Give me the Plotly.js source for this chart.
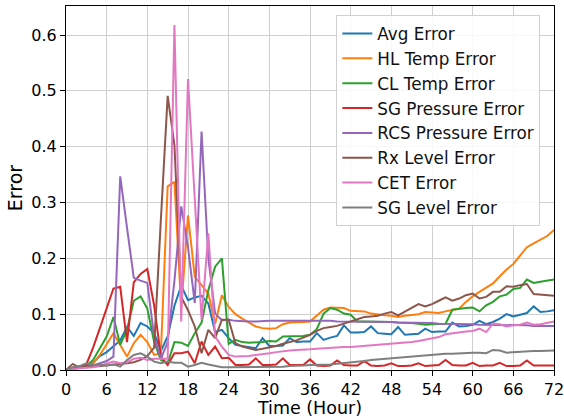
<!DOCTYPE html>
<html>
<head>
<meta charset="utf-8">
<script src="https://cdn.plot.ly/plotly-3.0.1.min.js"></script>
<style>html,body{margin:0;padding:0;background:#fff;}#chart{width:564px;height:418px;}</style>
</head>
<body>
<div id="chart"></div>
<script>
// Hours 0..72
const hours = Array.from({length: 73}, (_, i) => i);
const xTicks = [0, 6, 12, 18, 24, 30, 36, 42, 48, 54, 60, 66, 72];
const seriesNames = ["Avg Error", "HL Temp Error", "CL Temp Error", "SG Pressure Error",
  "RCS Pressure Error", "Rx Level Error", "CET Error", "SG Level Error"];

const avgError = [0.0,0.003,0.005,0.008,0.013,0.025,0.032,0.043,0.053,0.077,0.061,0.084,0.078,0.066,0.034,0.06,0.115,0.151,0.125,0.13,0.133,0.119,0.068,0.072,0.057,0.045,0.043,0.042,0.039,0.057,0.043,0.043,0.044,0.057,0.05,0.051,0.051,0.066,0.054,0.058,0.061,0.08,0.067,0.067,0.068,0.078,0.066,0.065,0.064,0.077,0.063,0.064,0.065,0.074,0.068,0.069,0.069,0.085,0.078,0.079,0.081,0.088,0.082,0.086,0.092,0.1,0.096,0.099,0.102,0.114,0.104,0.105,0.107];
const hlTempError = [0,0.002,0.004,0.006,0.012,0.027,0.046,0.066,0.045,0.024,0.048,0.063,0.05,0.027,0.03,0.329,0.337,0.11,0.277,0.167,0.152,0.137,0.083,0.134,0.113,0.1,0.092,0.085,0.078,0.075,0.074,0.075,0.082,0.085,0.085,0.086,0.087,0.097,0.108,0.112,0.112,0.111,0.106,0.105,0.105,0.101,0.099,0.098,0.097,0.095,0.097,0.098,0.1,0.104,0.103,0.102,0.105,0.107,0.11,0.122,0.132,0.14,0.148,0.155,0.168,0.18,0.19,0.205,0.22,0.227,0.234,0.24,0.251];
const clTempError = [0,0.002,0.004,0.007,0.018,0.04,0.06,0.095,0.045,0.072,0.124,0.132,0.11,0.05,0.018,0.012,0.05,0.049,0.043,0.066,0.085,0.143,0.185,0.2,0.047,0.054,0.05,0.049,0.049,0.05,0.052,0.051,0.06,0.06,0.06,0.061,0.063,0.073,0.101,0.111,0.108,0.101,0.099,0.087,0.087,0.087,0.087,0.087,0.086,0.085,0.085,0.084,0.083,0.081,0.082,0.082,0.083,0.108,0.11,0.111,0.112,0.105,0.116,0.122,0.132,0.135,0.145,0.147,0.162,0.156,0.158,0.16,0.162];
const sgPressureError = [0,0.003,0.005,0.01,0.04,0.075,0.11,0.146,0.149,0.05,0.157,0.172,0.181,0.116,0.024,0.009,0.03,0.03,0.033,0.012,0.051,0.027,0.042,0.021,0.022,0.009,0.009,0.01,0.021,0.009,0.009,0.01,0.021,0.009,0.009,0.009,0.019,0.008,0.007,0.008,0.017,0.009,0.008,0.008,0.016,0.008,0.007,0.008,0.012,0.007,0.007,0.008,0.012,0.007,0.008,0.009,0.018,0.009,0.008,0.008,0.013,0.007,0.008,0.008,0.013,0.007,0.007,0.008,0.017,0.008,0.008,0.008,0.008];
const rcsPressureError = [0,0.002,0.003,0.005,0.008,0.012,0.016,0.024,0.347,0.255,0.165,0.16,0.156,0.06,0.02,0.05,0.16,0.293,0.22,0.12,0.427,0.2,0.101,0.089,0.09,0.088,0.087,0.087,0.087,0.088,0.088,0.088,0.088,0.088,0.089,0.089,0.089,0.088,0.088,0.088,0.087,0.087,0.087,0.087,0.086,0.086,0.086,0.086,0.086,0.085,0.085,0.085,0.084,0.084,0.084,0.083,0.083,0.083,0.082,0.082,0.082,0.081,0.081,0.081,0.081,0.08,0.08,0.08,0.08,0.079,0.079,0.079,0.079];
const rxLevelError = [0,0.011,0.004,0.007,0.006,0.007,0.008,0.01,0.01,0.012,0.014,0.018,0.025,0.04,0.27,0.491,0.403,0.131,0.107,0.078,0.03,0.072,0.057,0.09,0.09,0.048,0.042,0.039,0.036,0.038,0.04,0.043,0.047,0.05,0.053,0.058,0.063,0.07,0.075,0.077,0.079,0.083,0.087,0.091,0.095,0.096,0.097,0.101,0.104,0.098,0.105,0.112,0.118,0.114,0.118,0.124,0.13,0.124,0.128,0.134,0.137,0.128,0.131,0.14,0.14,0.15,0.149,0.152,0.154,0.136,0.135,0.134,0.133];
const cetError = [0,0.002,0.003,0.004,0.005,0.008,0.012,0.015,0.012,0.014,0.02,0.022,0.018,0.02,0.02,0.02,0.618,0.087,0.521,0.3,0.09,0.245,0.06,0.042,0.027,0.024,0.024,0.025,0.027,0.028,0.03,0.032,0.034,0.035,0.036,0.036,0.037,0.038,0.039,0.04,0.04,0.041,0.041,0.042,0.043,0.044,0.044,0.045,0.046,0.047,0.048,0.05,0.052,0.054,0.057,0.059,0.064,0.066,0.067,0.069,0.07,0.074,0.068,0.083,0.082,0.078,0.08,0.081,0.085,0.081,0.082,0.084,0.087];
const sgLevelError = [0,0.005,0.007,0.012,0.01,0.009,0.008,0.01,0.006,0.018,0.027,0.03,0.024,0.015,0.012,0.015,0.013,0.013,0.006,0.009,0.013,0.01,0.007,0.005,0.005,0.005,0.005,0.005,0.006,0.005,0.005,0.006,0.006,0.007,0.007,0.008,0.009,0.009,0.009,0.01,0.011,0.012,0.013,0.015,0.016,0.018,0.019,0.021,0.021,0.022,0.024,0.025,0.026,0.027,0.027,0.028,0.029,0.029,0.03,0.03,0.031,0.031,0.03,0.036,0.035,0.031,0.032,0.033,0.033,0.034,0.034,0.035,0.035];

const seriesValues = [avgError, hlTempError, clTempError, sgPressureError,
  rcsPressureError, rxLevelError, cetError, sgLevelError];
const colors = ["#1f77b4", "#ff7f0e", "#2ca02c", "#d62728", "#9467bd", "#8c564b", "#e377c2", "#7f7f7f"];

const traces = seriesNames.map((name, i) => ({
  x: hours, y: seriesValues[i], name: name, type: "scatter", mode: "lines",
  line: {color: colors[i], width: 2}
}));

const font = "DejaVu Sans, sans-serif";
const layout = {
  width: 564, height: 418,
  margin: {l: 66, r: 10, t: 6, b: 48},
  paper_bgcolor: "#fff", plot_bgcolor: "#fff",
  font: {family: font, color: "#000", size: 16},
  showlegend: true,
  legend: {
    x: 0.972, y: 0.975, xanchor: "right", yanchor: "top",
    bgcolor: "rgba(255,255,255,0.85)", bordercolor: "#d0d0d0", borderwidth: 1,
    font: {family: font, size: 16.8, color: "#111"}
  },
  xaxis: {
    range: [0, 72], tickvals: xTicks, ticktext: xTicks.map(String),
    ticklabeloverflow: "allow",
    showgrid: true, gridcolor: "#cfcfcf", gridwidth: 1,
    showline: true, mirror: true, linecolor: "#000", linewidth: 1,
    ticks: "outside", ticklen: 5, tickcolor: "#000",
    zeroline: false, tickfont: {size: 16},
    automargin: "bottom",
    title: {text: "Time (Hour)", font: {size: 17.5}, standoff: 1}
  },
  yaxis: {
    range: [0, 0.652], dtick: 0.1, tick0: 0, tickformat: ".1f",
    showgrid: true, gridcolor: "#cfcfcf", gridwidth: 1,
    showline: true, mirror: true, linecolor: "#000", linewidth: 1,
    ticks: "outside", ticklen: 5, tickcolor: "#000",
    zeroline: false, tickfont: {size: 16},
    title: {text: "Error", font: {size: 19}, standoff: 3}
  }
};

Plotly.newPlot("chart", traces, layout, {displayModeBar: false, staticPlot: true});
</script>
</body>
</html>
